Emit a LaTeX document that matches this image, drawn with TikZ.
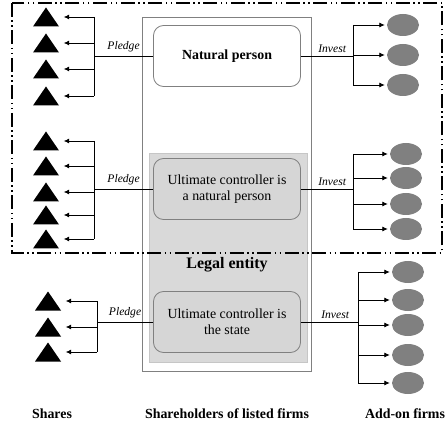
\documentclass[tikz,border=0pt]{standalone}
\usepackage{fontspec}
\setmainfont{Liberation Serif}
\usetikzlibrary{shapes.geometric}
\usetikzlibrary{arrows.meta}
\tikzset{
	% pledged shares (black triangles) and add-on firms (grey ellipses)
	share node/.style={rectangle,minimum width=26pt,minimum height=19pt,inner sep=0,
		path picture={\fill (path picture bounding box.south west) -- (path picture bounding box.south east)
			-- (path picture bounding box.north) -- cycle;}},
	firm node/.style={ellipse,minimum width=32pt,minimum height=22pt,inner sep=0,fill=gray},
	% shareholder types
	holder box/.style={draw=gray,line width=0.8pt,rounded corners=10,minimum width=147pt,minimum height=61pt,
		align=center,font=\fontsize{13.9}{16}\selectfont},
	link/.style={draw,line width=0.8pt},
	to share/.style={link,-{Latex[length=5.5pt,width=5pt]},shorten >=4.5pt},
	to firm/.style={link,-{Latex[length=5.5pt,width=5pt]},shorten >=2pt},
	edge label/.style={above,font=\fontsize{11.6}{13}\selectfont\itshape},
	title/.style={font=\fontsize{13.9}{16}\selectfont\bfseries}
}

\begin{document}
\begin{tikzpicture}[x=1pt,y=-1pt]
\useasboundingbox (0,0) rectangle (445,425);

% shareholders of listed firms (outer frame) and legal entity (grey part)
\node(holders)[draw=gray,line width=0.9pt,minimum width=169pt,minimum height=354pt] at (226.5,194) {};
\node(legal)[fill=gray!30,draw=gray!45,minimum width=158pt,minimum height=209pt] at (228,257.5) {};
\node[title,font=\fontsize{16}{18}\selectfont\bfseries] at (227,265) {Legal entity};

% shareholder boxes
\node(np)[holder box,fill=white] at (227,56) {\textbf{Natural person}};
\node(ucn)[holder box,fill=gray!32] at (227,189) {Ultimate controller is\\a natural person};
\node(ucs)[holder box,fill=gray!32] at (227,322) {Ultimate controller is\\the state};

% shares
\foreach \y [count=\i] in {17,43,69,96} \node(s1\i)[share node] at (46,\y) {};
\foreach \y [count=\i] in {141,166,192,215,239} \node(s2\i)[share node] at (46,\y) {};
\foreach \y [count=\i] in {301,327,352} \node(s3\i)[share node] at (48,\y) {};

% add-on firms
\foreach \y [count=\i] in {25,55,85} \node(f1\i)[firm node] at (403,\y) {};
\foreach \y [count=\i] in {154,178,204,229} \node(f2\i)[firm node] at (406,\y) {};
\foreach \y [count=\i] in {272,300,325,355,383} \node(f3\i)[firm node] at (408,\y) {};

% pledge branches
\coordinate(p1) at (94,56);
\coordinate(p2) at (94,189);
\coordinate(p3) at (97,322);
\draw[link](np.west) -- node[edge label]{Pledge} (p1);
\draw[link](ucn.west) -- node[edge label]{Pledge} (p2);
\draw[link](ucs.west) -- node[edge label]{Pledge} (p3);
\draw[link](p1 |- s11) -- (p1 |- s14);
\draw[link](p2 |- s21) -- (p2 |- s25);
\draw[link](p3 |- s31) -- (p3 |- s33);
\foreach \i in {1,...,4} \draw[to share](p1 |- s1\i) -- (s1\i);
\foreach \i in {1,...,5} \draw[to share](p2 |- s2\i) -- (s2\i);
\foreach \i in {1,...,3} \draw[to share](p3 |- s3\i) -- (s3\i);

% invest branches
\coordinate(v1) at (353,56);
\coordinate(v2) at (353,189);
\coordinate(v3) at (358,322);
\draw[link](np.east) -- node[edge label,pos=0.6]{Invest} (v1);
\draw[link](ucn.east) -- node[edge label,pos=0.6]{Invest} (v2);
\draw[link](ucs.east) -- node[edge label,pos=0.6]{Invest} (v3);
\draw[link](v1 |- f11) -- (v1 |- f13);
\draw[link](v2 |- f21) -- (v2 |- f24);
\draw[link](v3 |- f31) -- (v3 |- f35);
\foreach \i in {1,...,3} \draw[to firm](v1 |- f1\i) -- (f1\i);
\foreach \i in {1,...,4} \draw[to firm](v2 |- f2\i) -- (f2\i);
\foreach \i in {1,...,5} \draw[to firm](v3 |- f3\i) -- (f3\i);

% natural person group (dash-dot-dot frame)
\draw[line width=1.5pt,dash pattern=on 14pt off 3.5pt on 1.5pt off 3.5pt on 1.5pt off 3.5pt]
	(12,3) rectangle (442,253);

% column titles
\node[title] at (52,414) {Shares};
\node[title] at (227,414) {Shareholders of listed firms};
\node[title] at (405,414) {Add-on firms};

\end{tikzpicture}
\end{document}
